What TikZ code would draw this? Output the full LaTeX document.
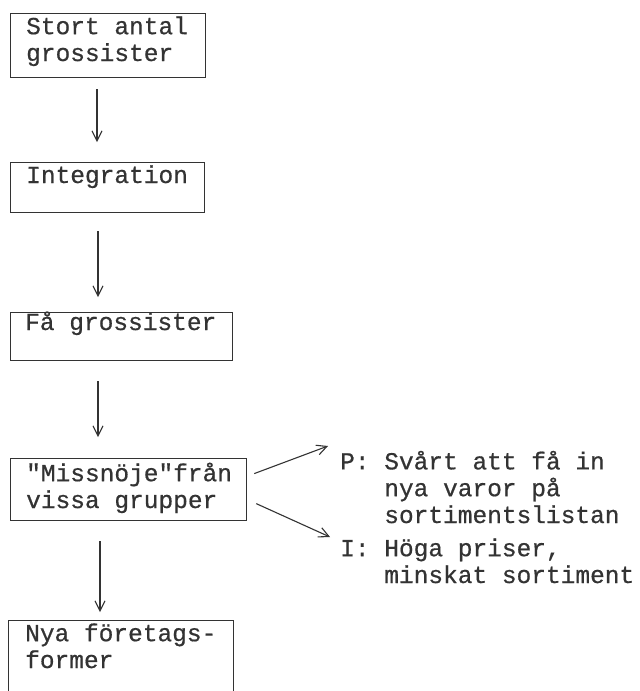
\documentclass[tikz,border=0pt]{standalone}
\usepackage{fontspec}
\newfontfamily\twfont{Liberation Mono}[FakeBold=0.6]
\usetikzlibrary{arrows.meta}
\definecolor{ink}{HTML}{333333}
\begin{document}
\begin{tikzpicture}[x=1pt,y=-1pt,
  box/.style={draw=ink,line width=1.2pt,anchor=north west,inner sep=0pt},
  txt/.style={anchor=base west,inner sep=0pt,align=left,text=ink,
    font=\twfont\fontsize{24.5}{26.8}\selectfont},
  arr/.style={draw=ink,line width=1.1pt,-{Straight Barb[length=10pt,width=10pt,line width=1.1pt]}}]
\clip (0,0) rectangle (640,691);
\fill[white] (0,0) rectangle (640,691);

% boxes of the chain
\node[box,minimum width=195pt,minimum height=64pt] (b1) at (10,13) {};
\node[box,minimum width=194pt,minimum height=50pt] (b2) at (10,162) {};
\node[box,minimum width=222pt,minimum height=48pt] (b3) at (10,312) {};
\node[box,minimum width=236pt,minimum height=62pt] (b4) at (10,458) {};
\node[box,minimum width=225pt,minimum height=100pt] (b5) at (8,620) {};

% texts inside the boxes (placed by the baseline of their last line)
\node[txt] (t1) at (26,61) {Stort antal\\grossister};
\node[txt] (t2) at (26,183) {Integration};
\node[txt] (t3) at (25,330) {Få grossister};
\node[txt] (t4) at (26,508) {"Missnöje"från\\vissa grupper};
\node[txt] (t5) at (25,668) {Nya företags-\\former};

% consequences
\node[txt] (p) at (340,523) {P: Svårt att få in\\\phantom{P:~}nya varor på\\\phantom{P:~}sortimentslistan};
\node[txt] (i) at (340,583) {I: Höga priser,\\\phantom{I:~}minskat sortiment};

% downward arrows
\draw[arr] ([xshift=87pt,yshift=-11pt]b1.south west) -- ([xshift=87pt,yshift=20pt]b2.north west);
\draw[arr] ([xshift=88pt,yshift=-18pt]b2.south west) -- ([xshift=88pt,yshift=15pt]b3.north west);
\draw[arr] ([xshift=88pt,yshift=-20pt]b3.south west) -- ([xshift=88pt,yshift=21pt]b4.north west);
\draw[arr] ([xshift=90pt,yshift=-20pt]b4.south west) -- ([xshift=92pt,yshift=8pt]b5.north west);

% side arrows
\draw[arr] ([xshift=7pt,yshift=16pt]b4.east) -- ([xshift=-12pt,yshift=77pt]p.base west);
\draw[arr] ([xshift=9pt,yshift=-14pt]b4.east) -- ([xshift=-10pt,yshift=46pt]i.base west);
\end{tikzpicture}
\end{document}
